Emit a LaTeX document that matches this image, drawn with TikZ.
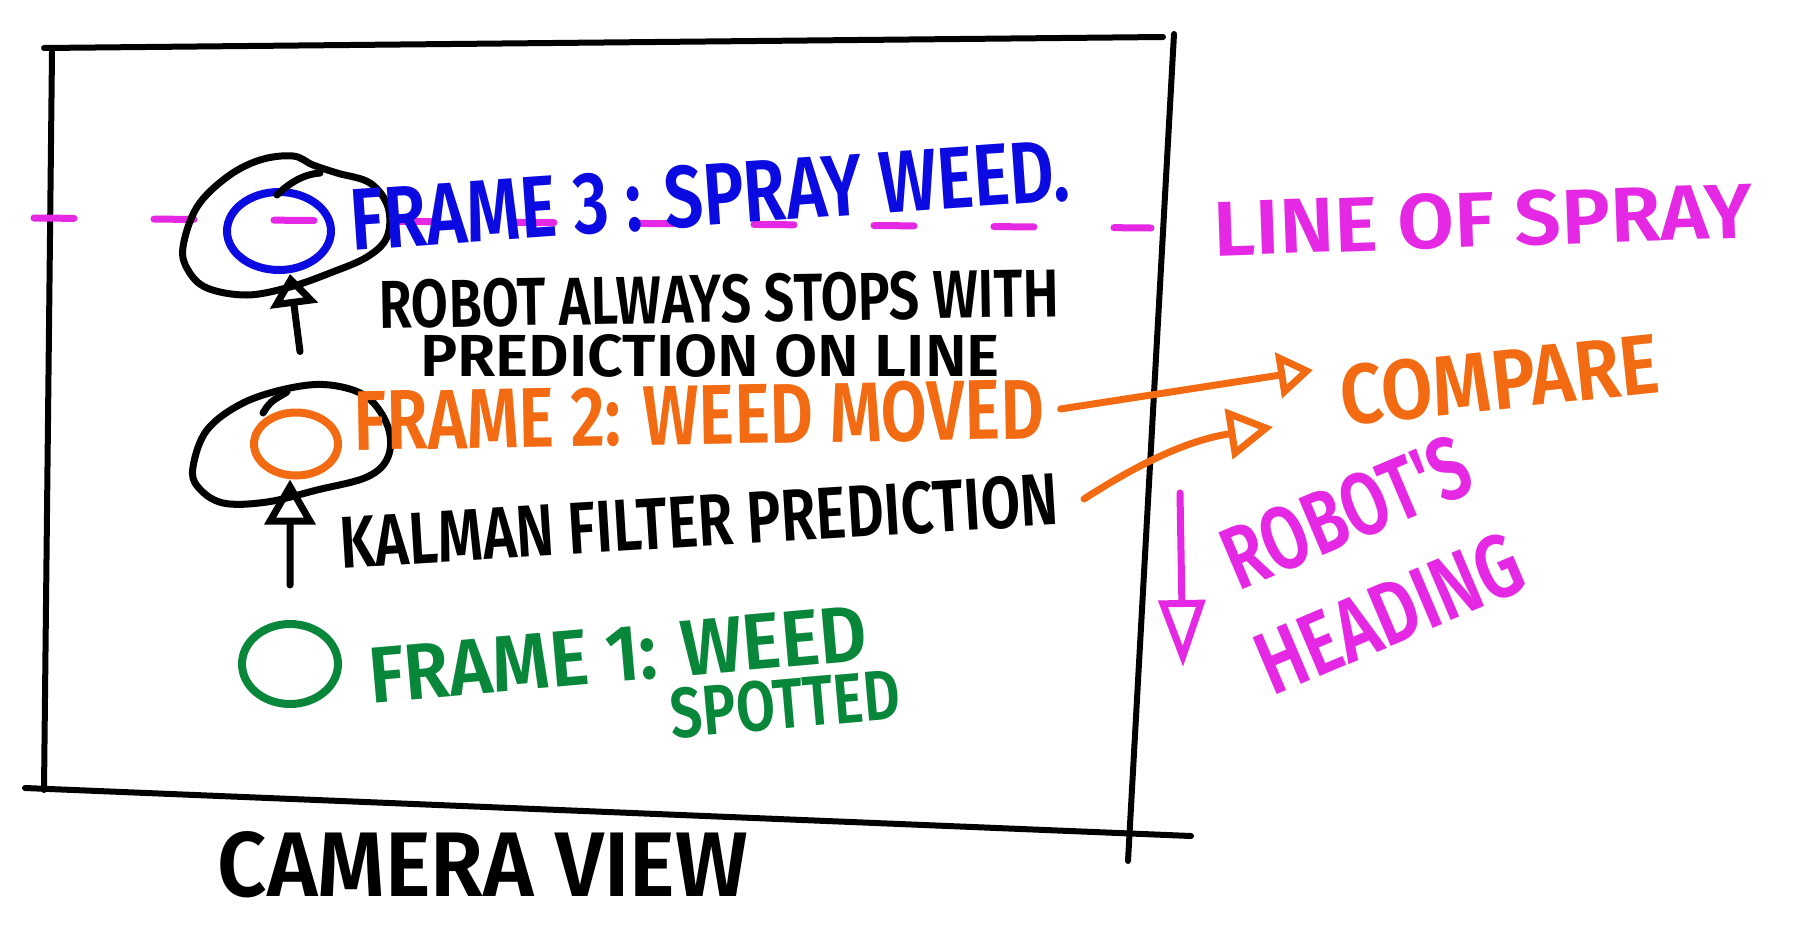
\documentclass[tikz,border=0pt]{standalone}
\usepackage{fontspec}
\setmainfont{Fira Sans}
\newfontfamily\handfont{Fira Sans SemiBold}
\usepackage{graphicx}
\definecolor{SketchBlue}{RGB}{10,10,225}
\definecolor{SketchOrange}{RGB}{242,106,18}
\definecolor{SketchGreen}{RGB}{8,134,58}
\definecolor{SketchPink}{RGB}{228,40,228}
\usetikzlibrary{
    shapes.geometric,
    arrows.meta,
}
\newcommand{\handtext}[3]{\resizebox{#1mm}{#2mm}{#3}}

\begin{document}
\begin{tikzpicture}[
    x=0.1mm, y=-0.1mm,
    pen/.style={line width=0.7mm, line cap=round, line join=round},
    weed/.style={ellipse, draw=#1, line width=0.8mm, inner sep=0pt},
    hand/.style={inner sep=0pt, text=#1, font=\handfont}
]
    \useasboundingbox (0,0) rectangle (1796,934);
    \draw[pen, line width=0.6mm] (44,48) -- (1163,37);
    \draw[pen, line width=0.6mm] (1174,34) -- (1128,861);
    \draw[pen, line width=0.6mm] (25,788) -- (1191,836);
    \draw[pen, line width=0.6mm] (52,52) -- (44,790);
    \draw[pen, SketchPink, dash pattern=on 4mm off 8mm] (34,218) -- (1151,228);

    \node[weed=SketchBlue,   minimum width=10.4mm, minimum height=7.8mm] (w3) at (279,231) {};
    \node[weed=SketchOrange, minimum width=8.4mm,  minimum height=6.3mm] (w2) at (296,444) {};
    \node[weed=SketchGreen,  minimum width=9.6mm,  minimum height=8mm]   (w1) at (290,664) {};

    \draw[pen] plot[smooth cycle, tension=0.6] coordinates {(183,247) (197,207) (227,177) (260,160) (293,156) (313,165) (337,173) (370,183) (388,207) (387,237) (367,257) (330,273) (290,287) (247,295) (207,288) (188,270)};
    \draw[pen] (277,195) .. controls (290,182) and (305,174) .. (320,173);
    \draw[pen] plot[smooth cycle, tension=0.6] coordinates {(193,467) (207,430) (243,403) (290,388) (330,385) (367,397) (388,427) (388,457) (367,477) (317,490) (267,502) (223,503) (198,487)};
    \draw[pen] (263,413) .. controls (270,402) .. (287,392);

    \node[hand=SketchBlue, rotate=4]   (f3)    at (710,195)  {\handtext{72}{6.2}{FRAME 3 : SPRAY WEED.}};
    \node[hand=black, rotate=1]        (stop1) at (719,299)  {\handtext{68}{4.8}{ROBOT ALWAYS STOPS WITH}};
    \node[hand=black]                  (stop2) at (710,356)  {\handtext{58}{4.2}{PREDICTION ON LINE}};
    \node[hand=SketchOrange, rotate=1] (f2)    at (699,415)  {\handtext{69}{6}{FRAME 2: WEED MOVED}};
    \node[hand=black, rotate=3.5]      (kal)   at (699,521)  {\handtext{72}{5.2}{KALMAN FILTER PREDICTION}};
    \node[hand=SketchGreen, rotate=5]  (f1)    at (618,655)  {\handtext{50}{5.5}{FRAME 1: WEED}};
    \node[hand=SketchGreen, rotate=5]  (spot)  at (785,704)  {\handtext{23}{5}{SPOTTED}};
    \node[hand=SketchOrange, rotate=6] (cmp)   at (1500,380) {\handtext{32}{6}{COMPARE}};
    \node[hand=SketchPink, rotate=2]   (los)   at (1483,220) {\handtext{54}{5.5}{LINE OF SPRAY}};
    \node[hand=SketchPink, rotate=23, align=center] (hd) at (1368,563) {\handtext{26}{6.3}{ROBOT'S}\\[4.2mm]\handtext{28}{6.3}{HEADING}};
    \node[hand=black]                  (cam)   at (483,865)  {\handtext{53}{6.5}{CAMERA VIEW}};

    \coordinate (cmpA) at (1313,370);
    \coordinate (cmpB) at (1273,427);
    \coordinate (hdA) at (1180,493);
    \coordinate (hdB) at (1183,667);

    \draw[pen, -{Triangle[open, length=3.2mm, width=4.7mm]}] ([xshift=0.4mm, yshift=5.7mm]w2.north) -- ([xshift=1.1mm]w3.south);
    \draw[pen, -{Triangle[open, length=4.5mm, width=5mm]}] ([yshift=3.5mm]w1.north) -- ([xshift=-0.6mm]w2.south);
    \draw[pen, SketchOrange, -{Triangle[open, length=3.5mm, width=4.5mm]}] ([xshift=1.6mm]f2.east) -- (cmpA);
    \draw[pen, SketchOrange, -{Triangle[open, length=4.5mm, width=5mm]}] ([xshift=2.5mm]kal.east) to[bend left=12] (cmpB);
    \draw[pen, SketchPink, -{Triangle[open, length=6.7mm, width=4.6mm]}] (hdA) -- (hdB);
\end{tikzpicture}
\end{document}
